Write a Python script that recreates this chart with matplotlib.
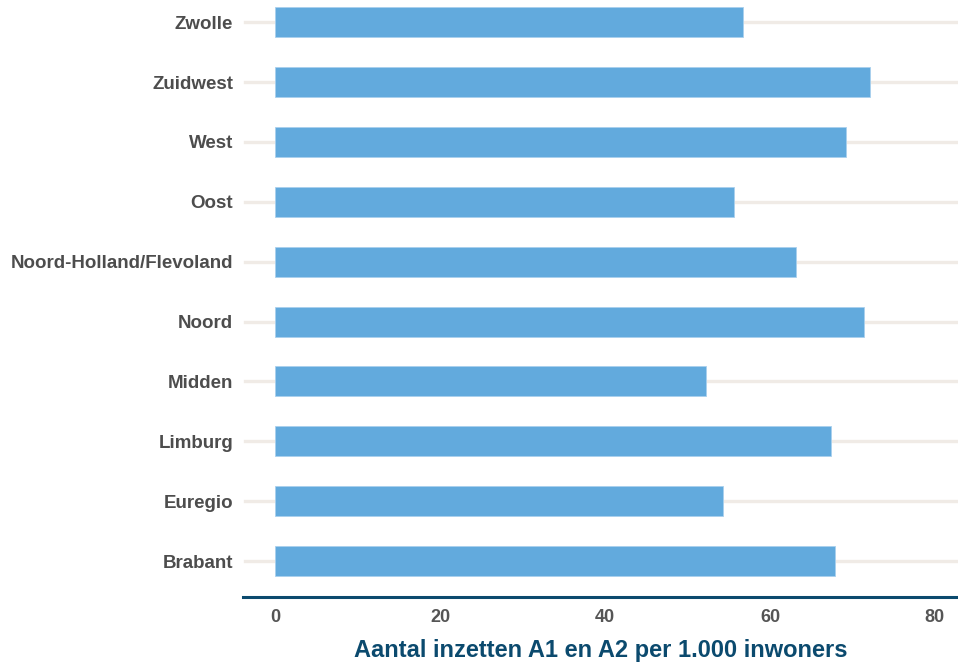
import matplotlib.pyplot as plt
from matplotlib import font_manager

regions = ['Brabant', 'Euregio', 'Limburg', 'Midden', 'Noord',
           'Noord-Holland/Flevoland', 'Oost', 'West', 'Zuidwest', 'Zwolle']
inzetten = [67.9, 54.3, 67.35, 52.2, 71.4, 63.1, 55.6, 69.25, 72.1, 56.7]
x_ticks = [0, 20, 40, 60, 80]

names = {f.name for f in font_manager.fontManager.ttflist}
narrow = 'Liberation Sans Narrow' if 'Liberation Sans Narrow' in names else 'Liberation Sans'

fig = plt.figure(figsize=(9.58, 6.63), dpi=100)
ax = fig.add_axes([243 / 958, 66 / 663, 715 / 958, 597 / 663])

ypos = list(range(len(regions)))
ax.barh(ypos, inzetten, height=0.5, color='#62aadd', edgecolor='#a9d0ee',
        linewidth=0.6, zorder=3)

ax.set_xlim(-3.9, 82.8)
ax.set_ylim(-0.6, 9.37)

# light horizontal guide per region
for y in ypos:
    ax.axhline(y, xmin=0.003, color='#f0ebe6', lw=2.4, zorder=1)

for side in ['top', 'right', 'left']:
    ax.spines[side].set_visible(False)
ax.spines['bottom'].set_color('#0b4a6e')
ax.spines['bottom'].set_linewidth(2.2)

ax.set_yticks(ypos)
ax.set_yticklabels(regions, fontfamily='Liberation Sans', fontweight='bold',
                   fontsize=13.5, color='#4d4d4d')
ax.set_xticks(x_ticks)
ax.set_xticklabels([str(t) for t in x_ticks], fontfamily=narrow,
                   fontweight='bold', fontsize=13, color='#555555')
ax.tick_params(axis='y', length=0, pad=7)
ax.tick_params(axis='x', length=0, pad=9)

ax.set_xlabel('Aantal inzetten A1 en A2 per 1.000 inwoners', fontfamily=narrow,
              fontweight='bold', fontsize=17, color='#0b4a6e', labelpad=9)

fig.savefig('out.png', dpi=100)
